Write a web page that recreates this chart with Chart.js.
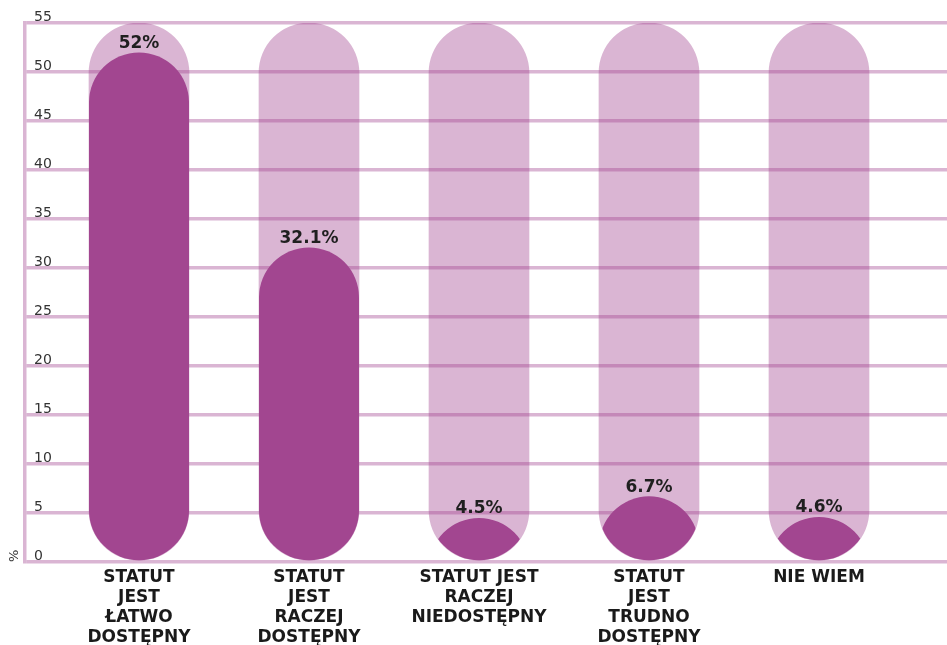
<!DOCTYPE html>
<html>
<head>
<meta charset="utf-8">
<script src="https://cdn.jsdelivr.net/npm/chart.js@4"></script>
<style>
  html, body { margin: 0; padding: 0; background: #fff; }
  #wrap { width: 947px; height: 645px; }
</style>
</head>
<body>
<div id="wrap"><canvas id="wykres"></canvas></div>
<script>
// kategorie odpowiedzi (podzielone na linie)
const kategorie = [
    ['STATUT', 'JEST', 'ŁATWO', 'DOSTĘPNY'],
    ['STATUT', 'JEST', 'RACZEJ', 'DOSTĘPNY'],
    ['STATUT JEST', 'RACZEJ', 'NIEDOSTĘPNY'],
    ['STATUT', 'JEST', 'TRUDNO', 'DOSTĘPNY'],
    ['NIE WIEM']
];
// odsetek odpowiedzi w %
const wartosci = [52, 32.1, 4.5, 6.7, 4.6];
// tło słupków - pełna skala
const tlo = [55, 55, 55, 55, 55];
const osY = { min: 0, max: 55, krok: 5 };

const fiolet = 'rgb(162, 70, 144)';
const rozowy = 'rgba(162, 70, 144, 0.4)';

// słupki rysowane jako "pigułki", przycięte do tła
const pigulki = {
    id: 'pigulki',
    beforeDatasetDraw(chart, args) {
        if (args.index !== 1) return;
        const ctx = chart.ctx;
        args.meta.data.forEach(el => {
            const { x, y, base, width } = el.getProps(['x', 'y', 'base', 'width'], true);
            const r = width / 2;
            ctx.save();
            // górna kopuła
            ctx.beginPath();
            ctx.moveTo(x - r, base + 1);
            ctx.lineTo(x - r, y + r);
            ctx.arc(x, y + r, r, Math.PI, 0);
            ctx.lineTo(x + r, base + 1);
            ctx.closePath();
            ctx.clip();
            // dolne zaokrąglenie
            ctx.beginPath();
            ctx.moveTo(x - r, y - 1);
            ctx.lineTo(x - r, base - r);
            ctx.arc(x, base - r, r, Math.PI, 0, true);
            ctx.lineTo(x + r, y - 1);
            ctx.closePath();
            ctx.fillStyle = fiolet;
            ctx.fill();
            ctx.restore();
        });
        return false;
    },
    afterDatasetsDraw(chart) {
        const ctx = chart.ctx;
        const meta = chart.getDatasetMeta(1);
        ctx.save();
        ctx.font = 'bold 17px "DejaVu Sans"';
        ctx.fillStyle = '#1f1f1f';
        ctx.textAlign = 'center';
        ctx.textBaseline = 'middle';
        meta.data.forEach((el, i) => {
            ctx.fillText(wartosci[i] + '%', el.x, el.y - 9);
        });
        ctx.restore();
    }
};

const ctx = document.getElementById('wykres').getContext('2d');
new Chart(ctx, {
    type: 'bar',
    data: {
        datasets: [{
            data: tlo.map((v, i) => ({ x: i, y: v })),
            backgroundColor: rozowy,
            borderRadius: 50,
            borderSkipped: false,
            barThickness: 100,
            grouped: false,
            order: 2
        }, {
            data: wartosci.map((v, i) => ({ x: i, y: v })),
            backgroundColor: fiolet,
            barThickness: 100,
            grouped: false,
            order: 1
        }]
    },
    options: {
        responsive: true,
        maintainAspectRatio: false,
        animation: false,
        layout: { padding: { top: 23, right: 0, bottom: 0, left: 0 } },
        plugins: {
            legend: { display: false },
            tooltip: { enabled: false }
        },
        scales: {
            x: {
                type: 'linear',
                offset: false,
                min: -0.6706,
                max: 4.753,
                afterBuildTicks: scale => {
                    scale.ticks = kategorie.map((_, i) => ({ value: i }));
                },
                afterFit: scale => { scale.height = 83; },
                grid: { display: false, drawTicks: false },
                border: { display: false },
                ticks: {
                    autoSkip: false,
                    maxRotation: 0,
                    minRotation: 0,
                    padding: 6,
                    color: '#1a1a1a',
                    font: { family: 'DejaVu Sans', size: 17, weight: 'bold', lineHeight: '20px' },
                    callback: value => kategorie[value]
                }
            },
            y: {
                min: osY.min,
                max: osY.max,
                afterFit: scale => { scale.width = 25; },
                grid: { color: rozowy, lineWidth: 3.5, drawTicks: false },
                border: { color: rozowy, width: 3.5 },
                ticks: {
                    stepSize: osY.krok,
                    mirror: true,
                    padding: 9,
                    labelOffset: -6,
                    color: '#333',
                    font: { family: 'DejaVu Sans', size: 14 }
                },
                title: {
                    display: true,
                    text: '%',
                    align: 'start',
                    color: '#333',
                    padding: { top: 7, bottom: 0 },
                    font: { family: 'DejaVu Sans', size: 13 }
                }
            }
        }
    },
    plugins: [pigulki]
});
</script>
</body>
</html>
